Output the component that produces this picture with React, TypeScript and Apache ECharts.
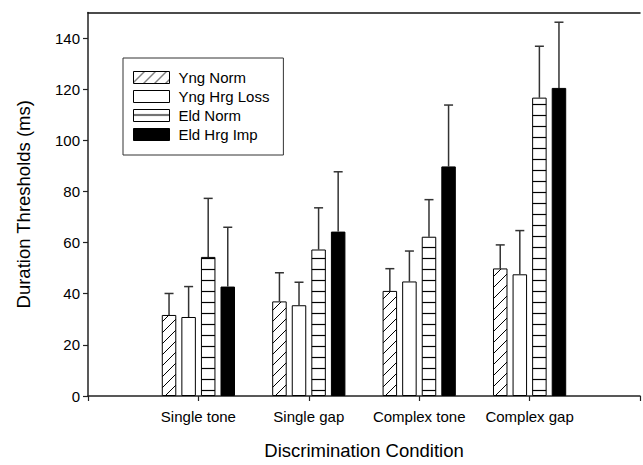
import React, { useEffect, useRef } from 'react';
import * as echarts from 'echarts';

const categories = ['', 'Single tone', 'Single gap', 'Complex tone', 'Complex gap', ''];
const groups = ['Yng Norm', 'Yng Hrg Loss', 'Eld Norm', 'Eld Hrg Imp'];
const yngNorm = [31.7, 37.0, 41.1, 49.9];
const yngNormSD = [8.4, 11.2, 8.7, 9.2];
const yngHrgLoss = [30.9, 35.5, 44.8, 47.6];
const yngHrgLossSD = [11.9, 9.0, 11.9, 17.1];
const eldNorm = [54.4, 57.3, 62.3, 116.7];
const eldNormSD = [22.9, 16.3, 14.5, 20.1];
const eldHrgImp = [42.8, 64.3, 89.8, 120.5];
const eldHrgImpSD = [23.2, 23.4, 24.0, 25.7];
const yTicks = [0, 20, 40, 60, 80, 100, 120, 140];

const FONT = "'Liberation Sans', Arial, sans-serif";

function svgUrl(s: string) {
  return 'data:image/svg+xml;charset=utf-8,' + encodeURIComponent(s);
}
const T = 11;
const hatch = {
  image: svgUrl(
    `<svg xmlns='http://www.w3.org/2000/svg' width='${T}' height='${T}'><rect width='${T}' height='${T}' fill='white'/><path d='M-1,${T + 1} L${T + 1},-1 M-1,1 L1,-1 M${T - 1},${T + 1} L${T + 1},${T - 1}' stroke='black' stroke-width='1'/></svg>`
  ),
  repeat: 'repeat',
  imageWidth: T,
  imageHeight: T,
};
const hstripe = {
  image: svgUrl(
    `<svg xmlns='http://www.w3.org/2000/svg' width='${T}' height='${T}'><rect width='${T}' height='${T}' fill='white'/><line x1='0' y1='5.5' x2='${T}' y2='5.5' stroke='black' stroke-width='1.2'/></svg>`
  ),
  repeat: 'repeat',
  imageWidth: T,
  imageHeight: T,
};

export default function App() {
  const ref = useRef<HTMLDivElement>(null);
  useEffect(() => {
    if (!ref.current) return;
    const chart = echarts.init(ref.current, undefined, { renderer: 'svg' });
    const values = [yngNorm, yngHrgLoss, eldNorm, eldHrgImp];
    const sds = [yngNormSD, yngHrgLossSD, eldNormSD, eldHrgImpSD];
    const fills: any[] = [hatch, '#ffffff', hstripe, '#000000'];
    const barW = 14.5;
    const gapRatio = 0.35;
    const step = barW * (1 + gapRatio);
    const series: any[] = [];
    values.forEach((vals, k) => {
      series.push({
        name: groups[k],
        type: 'bar',
        data: ['-', ...vals],
        barWidth: barW,
        barGap: gapRatio * 100 + '%',
        itemStyle: { color: fills[k], borderColor: '#000', borderWidth: 1 },
        z: 3,
      });
    });
    values.forEach((vals, k) => {
      const off = (k - 1.5) * step;
      series.push({
        type: 'custom',
        name: groups[k] + ' err',
        data: vals.map((v, i) => [i + 1, v, v + sds[k][i]]),
        encode: { x: 0, y: [1, 2] },
        z: 2,
        renderItem: (params: any, api: any) => {
          const c = api.value(0);
          const p0 = api.coord([c, api.value(1)]);
          const p1 = api.coord([c, api.value(2)]);
          const x = p0[0] + off;
          const st = { stroke: '#333', lineWidth: 1.5 };
          return {
            type: 'group',
            children: [
              { type: 'line', shape: { x1: x, y1: p0[1], x2: x, y2: p1[1] }, style: st },
              { type: 'line', shape: { x1: x - 4.5, y1: p1[1], x2: x + 4.5, y2: p1[1] }, style: st },
            ],
          };
        },
      });
    });

    chart.setOption({
      animation: false,
      grid: { left: 88, top: 12.5, right: -5, bottom: 61 },
      legend: {
        data: groups,
        orient: 'vertical',
        left: 123,
        top: 58,
        itemWidth: 36,
        itemHeight: 12,
        itemGap: 4,
        icon: 'rect',
        padding: [12, 14, 13, 10],
        borderColor: '#333',
        borderWidth: 1,
        itemStyle: { borderColor: '#000', borderWidth: 1 },
        textStyle: { fontFamily: FONT, fontSize: 15, color: '#000', padding: [0, 0, 0, 4] },
      },
      xAxis: [
        {
          type: 'category',
          data: categories,
          boundaryGap: false,
          name: 'Discrimination Condition',
          nameLocation: 'middle',
          nameGap: 45,
          nameTextStyle: { fontFamily: FONT, fontSize: 18.5, color: '#000' },
          axisLine: { lineStyle: { color: '#222', width: 1.5 } },
          axisTick: { show: true, interval: 0, length: 5, lineStyle: { color: '#222', width: 1.2 } },
          axisLabel: { interval: 0, margin: 13, fontFamily: FONT, fontSize: 15, color: '#000' },
          splitLine: { show: false },
        },
        {
          type: 'category',
          data: categories,
          boundaryGap: false,
          position: 'top',
          axisLine: { lineStyle: { color: '#111', width: 1.5 } },
          axisTick: { show: false },
          axisLabel: { show: false },
        },
      ],
      yAxis: {
        type: 'value',
        min: 0,
        max: 150,
        interval: 10,
        name: 'Duration Thresholds (ms)',
        nameLocation: 'middle',
        nameRotate: 90,
        nameGap: 55,
        nameTextStyle: { fontFamily: FONT, fontSize: 18.5, color: '#000' },
        axisLine: { show: true, lineStyle: { color: '#222', width: 1.5 } },
        axisTick: { show: true, length: 5, customValues: yTicks, lineStyle: { color: '#222', width: 1.2 } },
        axisLabel: { customValues: yTicks, margin: 8, fontFamily: FONT, fontSize: 15, color: '#000' },
        splitLine: { show: false },
      },
      series,
    });
    return () => chart.dispose();
  }, []);
  return (
    <div
      ref={ref}
      style={{ position: 'fixed', left: 0, top: 0, width: 643, height: 465, background: '#fff' }}
    />
  );
}
